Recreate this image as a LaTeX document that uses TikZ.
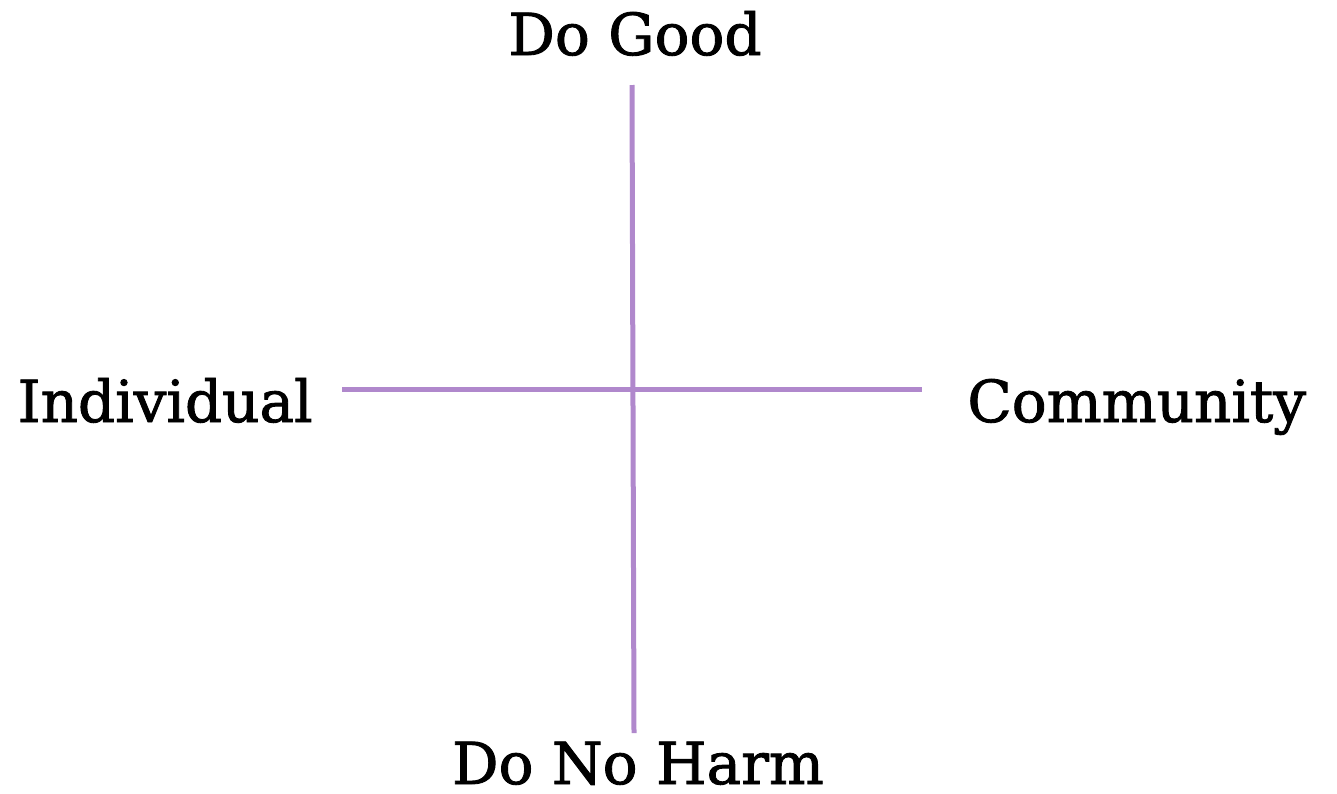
\documentclass[tikz,border=0pt]{standalone}
\usepackage{fontspec}
\newfontfamily\lblfont{DejaVu Serif}[FakeBold=1.5]
\definecolor{axis}{HTML}{B088CC}
\begin{document}
\begin{tikzpicture}[x=0.5pt,y=-0.5pt,
  axisline/.style={draw=axis,line width=2.5pt},
  lbl/.style={font=\lblfont\fontsize{29}{33}\selectfont,inner sep=0pt,text=black}]
\useasboundingbox (0,0) rectangle (1337,793);
\coordinate (top) at (632,85);
\coordinate (bot) at (634,733);
\coordinate (lft) at (342,389);
\coordinate (rgt) at (922,389);
\draw[axisline] (top) -- (bot);
\draw[axisline] (lft) -- (rgt);
\node[lbl,anchor=base] (good) at (635,55) {Do Good};
\node[lbl,anchor=base] (harm) at (638,784) {Do No Harm};
\node[lbl,anchor=base east] (ind) at (313,422) {Individual};
\node[lbl,anchor=base west] (com) at (967,422) {Community};
\end{tikzpicture}
\end{document}
